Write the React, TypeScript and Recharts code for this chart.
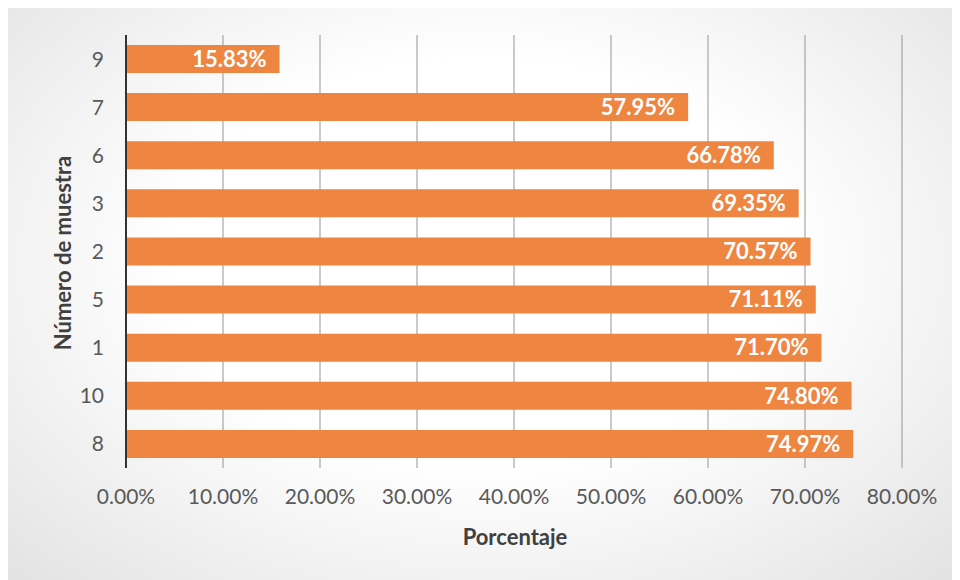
import React from 'react';
import { BarChart, Bar, XAxis, YAxis, CartesianGrid, LabelList } from 'recharts';

// sample numbers, top to bottom as drawn
const muestras = ['9', '7', '6', '3', '2', '5', '1', '10', '8'];
const porcentajes = [0.1583, 0.5795, 0.6678, 0.6935, 0.7057, 0.7111, 0.717, 0.748, 0.7497];
const xTicks = [0, 0.1, 0.2, 0.3, 0.4, 0.5, 0.6, 0.7, 0.8];

const data = muestras.map((m, i) => ({ muestra: m, valor: porcentajes[i] }));

const FONT = 'Lato, "Open Sans", sans-serif';
const pct = (v: number) => `${(v * 100).toFixed(2)}%`;

export default function App() {
  return (
    <div
      style={{
        position: 'relative',
        width: 960,
        height: 580,
        margin: '-8px 0 0 -8px',
        fontFamily: FONT,
        background: 'radial-gradient(ellipse at 50% 45%, #ffffff 45%, #e2e2e2 100%)',
        borderTop: '1px solid #c8c8c8',
        boxSizing: 'border-box',
      }}
    >
      <BarChart
        width={960}
        height={579}
        layout="vertical"
        data={data}
        margin={{ top: 34, right: 58, left: 50, bottom: 82 }}
        barSize={28}
      >
        <CartesianGrid horizontal={false} stroke="#959595" strokeWidth={1} />
        <XAxis
          type="number"
          domain={[0, 0.8]}
          ticks={xTicks}
          tickFormatter={pct}
          axisLine={false}
          tickLine={false}
          tickSize={0}
          tickMargin={21}
          height={30}
          tick={{ fill: '#595959', fontSize: 21, fontFamily: FONT }}
        />
        <YAxis
          type="category"
          dataKey="muestra"
          width={76}
          axisLine={{ stroke: '#333333', strokeWidth: 2 }}
          tickLine={false}
          tickSize={0}
          tickMargin={22}
          tick={{ fill: '#595959', fontSize: 21, fontFamily: FONT }}
        />
        <Bar dataKey="valor" fill="#ee8540" isAnimationActive={false}>
          <LabelList
            dataKey="valor"
            position="insideRight"
            offset={13}
            formatter={(v: any) => pct(Number(v))}
            style={{ fill: '#ffffff', fontWeight: 700, fontSize: 22, fontFamily: FONT }}
          />
        </Bar>
      </BarChart>
      <div
        style={{
          position: 'absolute',
          left: 415,
          width: 200,
          top: 522,
          textAlign: 'center',
          fontWeight: 700,
          fontSize: 22,
          color: '#404040',
        }}
      >
        Porcentaje
      </div>
      <div
        style={{
          position: 'absolute',
          left: 62,
          top: 252,
          transform: 'translate(-50%, -50%) rotate(-90deg)',
          whiteSpace: 'nowrap',
          fontWeight: 700,
          fontSize: 22,
          color: '#404040',
        }}
      >
        Número de muestra
      </div>
    </div>
  );
}
